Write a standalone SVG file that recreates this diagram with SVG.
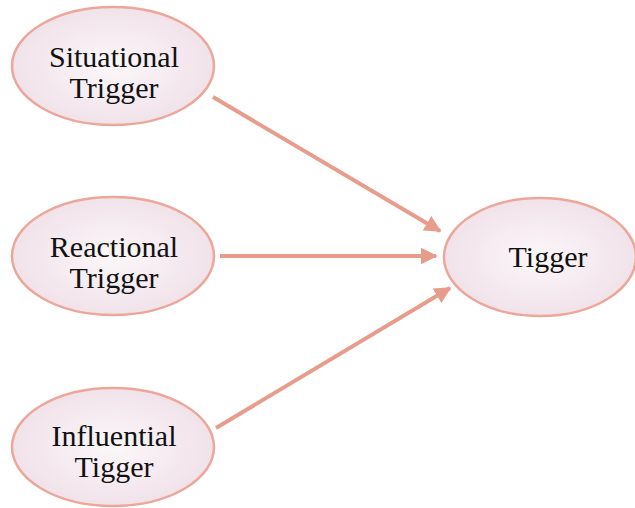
<svg xmlns="http://www.w3.org/2000/svg" width="635" height="508" viewBox="0 0 635 508">
  <defs>
    <radialGradient id="nodeFill" cx="50%" cy="50%" r="55%">
      <stop offset="0" stop-color="#fbf7f9"/>
      <stop offset="1" stop-color="#f0e0e8"/>
    </radialGradient>
    <marker id="arrow" viewBox="0 0 10 10" refX="9" refY="5" markerWidth="4.2" markerHeight="4.2" orient="auto" markerUnits="strokeWidth">
      <path d="M0,0 L10,5 L0,10 Z" fill="#e89c8c"/>
    </marker>
  </defs>
  <style>
    .node ellipse { fill: url(#nodeFill); stroke: #eda79a; stroke-width: 2.5; }
    .node text { font-family: "Times New Roman", "Liberation Serif", serif; font-size: 30px; fill: #111; text-anchor: middle; }
    .edge { stroke: #e89c8c; stroke-width: 4; fill: none; marker-end: url(#arrow); }
  </style>
  <rect width="635" height="508" fill="#ffffff"/>

  <g id="connectors">
    <line class="edge" x1="213" y1="97" x2="440" y2="231"/>
    <line class="edge" x1="220" y1="256" x2="436" y2="256"/>
    <line class="edge" x1="216" y1="428" x2="450" y2="288"/>
  </g>

  <g id="situational" class="node">
    <ellipse cx="113" cy="66" rx="101" ry="59"/>
    <text x="114" y="67">Situational</text>
    <text x="114" y="98">Trigger</text>
  </g>

  <g id="reactional" class="node">
    <ellipse cx="113" cy="256" rx="101" ry="59"/>
    <text x="114" y="257">Reactional</text>
    <text x="114" y="288">Trigger</text>
  </g>

  <g id="influential" class="node">
    <ellipse cx="113" cy="447" rx="101" ry="59"/>
    <text x="114" y="446">Influential</text>
    <text x="114" y="477">Tigger</text>
  </g>

  <g id="tigger" class="node">
    <ellipse cx="540" cy="257" rx="96" ry="59"/>
    <text x="548" y="267">Tigger</text>
  </g>
</svg>
